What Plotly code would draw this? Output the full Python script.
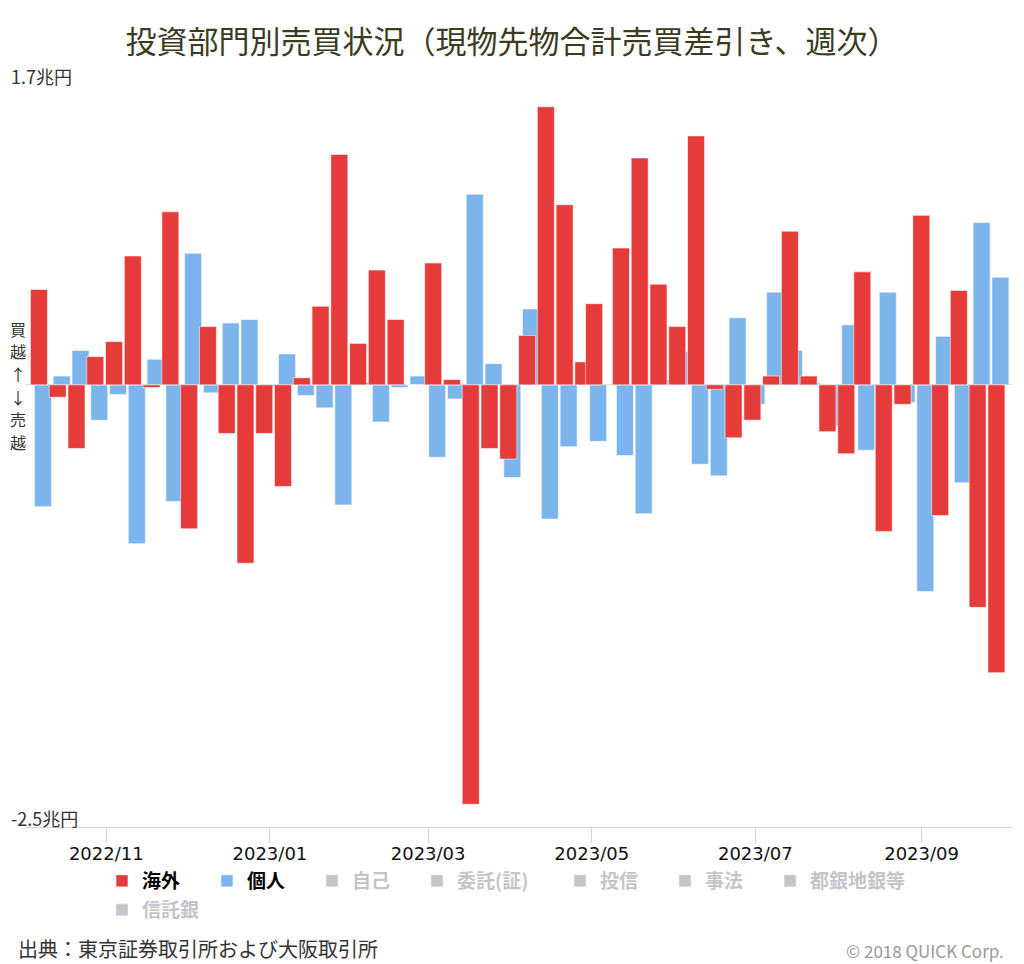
import plotly.graph_objects as go

# Week (last trading day) of each weekly observation
weeks = [
    "2022-10-07", "2022-10-14", "2022-10-21", "2022-10-28", "2022-11-04",
    "2022-11-11", "2022-11-18", "2022-11-25", "2022-12-02", "2022-12-09",
    "2022-12-16", "2022-12-23", "2022-12-30", "2023-01-06", "2023-01-13",
    "2023-01-20", "2023-01-27", "2023-02-03", "2023-02-10", "2023-02-17",
    "2023-02-24", "2023-03-03", "2023-03-10", "2023-03-17", "2023-03-24",
    "2023-03-31", "2023-04-07", "2023-04-14", "2023-04-21", "2023-04-28",
    "2023-05-02", "2023-05-12", "2023-05-19", "2023-05-26", "2023-06-02",
    "2023-06-09", "2023-06-16", "2023-06-23", "2023-06-30", "2023-07-07",
    "2023-07-14", "2023-07-21", "2023-07-28", "2023-08-04", "2023-08-10",
    "2023-08-18", "2023-08-25", "2023-09-01", "2023-09-08", "2023-09-15",
    "2023-09-22", "2023-09-29",
]

# 海外 (foreign investors), 兆円
foreign = [
    0.54, -0.07, -0.36, 0.16, 0.245, 0.73, -0.015, 0.98, -0.815, 0.33,
    -0.275, -1.01, -0.275, -0.575, 0.04, 0.445, 1.305, 0.235, 0.65, 0.37,
    0.0, 0.69, 0.03, -2.375, -0.36, -0.42, 0.28, 1.575, 1.02, 0.13,
    0.46, 0.775, 1.285, 0.57, 0.33, 1.41, -0.025, -0.30, -0.20, 0.05,
    0.87, 0.05, -0.265, -0.39, 0.64, -0.83, -0.11, 0.96, -0.74, 0.535,
    -1.26, -1.63,
]

# 個人 (individuals), 兆円
individual = [
    -0.69, 0.05, 0.195, -0.20, -0.055, -0.90, 0.145, -0.66, 0.745, -0.045,
    0.35, 0.37, -0.01, 0.175, -0.06, -0.13, -0.68, 0.015, -0.21, -0.015,
    0.05, -0.41, -0.08, 1.08, 0.12, -0.525, 0.43, -0.76, -0.35, 0.08,
    -0.32, -0.40, -0.73, 0.03, 0.19, -0.45, -0.515, 0.38, -0.11, 0.525,
    0.195, 0.01, -0.235, 0.34, -0.37, 0.525, -0.10, -1.17, 0.275, -0.555,
    0.92, 0.61,
]

hidden_series = ["自己", "委託(証)", "投信", "事法", "都銀地銀等", "信託銀"]
legend_widths = [60, 60, 60, 98, 60, 60, 110, 70]

y_tickvals = [-2.5, 1.7]
y_ticktext = ["-2.5兆円", "1.7兆円"]
x_tickvals = ["2022-11-01", "2023-01-01", "2023-03-01", "2023-05-01", "2023-07-01", "2023-09-01"]
x_ticktext = ["2022/11", "2023/01", "2023/03", "2023/05", "2023/07", "2023/09"]
side_label = ["買", "越", "↑", "↓", "売", "越"]

RED = "#e63b3b"
BLUE = "#7cb5ec"
GREY = "#8a8a9c"
DAY = 86400000
BAR_W = 6.34 * DAY
FONT = "Noto Sans CJK JP"
EPS = 0.004

fig = go.Figure()

fig.add_trace(go.Bar(
    x=weeks, y=individual, name="個人", legendrank=2,
    marker=dict(color=BLUE, line=dict(width=1, color="rgba(255,255,255,0.55)")),
    width=BAR_W, offset=-1.79 * DAY, legendwidth=legend_widths[1],
))
fig.add_trace(go.Bar(
    x=weeks, y=foreign, name="海外", legendrank=1,
    marker=dict(color=RED, line=dict(width=1, color="rgba(255,255,255,0.55)")),
    width=BAR_W, offset=-3.28 * DAY, legendwidth=legend_widths[0],
))
for i, nm in enumerate(hidden_series):
    fig.add_trace(go.Bar(
        x=[weeks[0]], y=[0], name=f'<span style="color:{GREY}">{nm}</span>',
        visible="legendonly", legendrank=3 + i,
        marker=dict(color=GREY),
        legend="legend2" if nm == "信託銀" else "legend",
        legendwidth=legend_widths[2 + i],
    ))

annotations = []
for k, ch in enumerate(side_label):
    annotations.append(dict(
        text=ch, xref="paper", yref="y", x=(18 - 25) / 987, y=0,
        xanchor="center", yanchor="middle", yshift=-((330 + 22.6 * k) - 386),
        showarrow=False, font=dict(size=16, color="#333333", family=FONT),
    ))
annotations += [
    dict(
        text="出典：東京証券取引所および大阪取引所",
        xref="paper", yref="paper", x=(16 - 25) / 987, y=(827 - 948) / 743,
        xanchor="left", yanchor="middle",
        showarrow=False, font=dict(size=20, color="#333333", family=FONT),
    ),
    dict(
        text="© 2018 QUICK Corp.",
        xref="paper", yref="paper", x=(1006 - 25) / 987, y=(827 - 950) / 743,
        xanchor="right", yanchor="middle",
        showarrow=False, font=dict(size=17, color="#999999", family=FONT),
    ),
]

fig.update_layout(
    width=1024, height=964,
    margin=dict(l=25, r=12, t=84, b=137, autoexpand=False),
    plot_bgcolor="white", paper_bgcolor="white",
    barmode="overlay",
    font=dict(family=FONT, color="#333333"),
    title=dict(
        text="投資部門別売買状況（現物先物合計売買差引き、週次）",
        x=0.5, xanchor="center", y=1 - 42 / 964, yanchor="middle",
        font=dict(size=31, color="#3b3b1f", family=FONT),
    ),
    showlegend=True,
    legend=dict(
        orientation="h", xref="container", yref="container",
        x=102 / 1024, xanchor="left", y=1 - 862 / 964, yanchor="top",
        font=dict(size=19, color="#000000", family=FONT, weight="bold"),
        bgcolor="rgba(0,0,0,0)", itemclick=False, itemdoubleclick=False,
        entrywidthmode="pixels",
    ),
    legend2=dict(
        orientation="h", xref="container", yref="container",
        x=102 / 1024, xanchor="left", y=1 - 891 / 964, yanchor="top",
        font=dict(size=19, color="#000000", family=FONT, weight="bold"),
        bgcolor="rgba(0,0,0,0)", itemclick=False, itemdoubleclick=False,
        entrywidthmode="pixels",
    ),
    xaxis=dict(
        type="date", automargin=False,
        range=["2022-10-01 16:30", "2023-10-04 16:50"],
        tickvals=x_tickvals, ticktext=x_ticktext,
        ticks="outside", ticklen=15, tickcolor="#ccd6eb", tickwidth=1,
        ticklabelstandoff=-5,
        tickfont=dict(size=18, color="#111111", family="DejaVu Sans"),
        showline=True, linecolor="#ccd6eb", linewidth=1,
        showgrid=False, zeroline=False, fixedrange=True,
    ),
    yaxis=dict(
        range=[-2.5 - EPS, 1.7 + EPS], automargin=False,
        tickvals=y_tickvals, ticktext=y_ticktext,
        ticklabelposition="inside top", ticklabelstandoff=-17,
        ticklabelshift=6, ticklabeloverflow="allow",
        tickfont=dict(size=18, color="#333333", family=FONT),
        showgrid=True, gridcolor="#e6e6e6", gridwidth=1,
        zeroline=True, zerolinecolor="#dddddd", zerolinewidth=1,
        showline=False, fixedrange=True,
    ),
    annotations=annotations,
)

fig.write_html(
    "out.html",
    config={"displayModeBar": False},
    post_script="document.body.style.margin='0';document.body.style.overflow='hidden';",
)
